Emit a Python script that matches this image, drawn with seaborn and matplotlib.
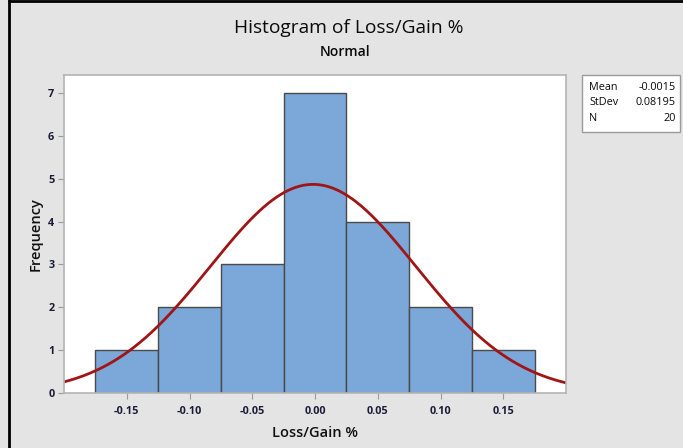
import numpy as np
import pandas as pd
import matplotlib
matplotlib.use("Agg")
import matplotlib.pyplot as plt
import seaborn as sns
from matplotlib.patches import Rectangle
from matplotlib.lines import Line2D

# Histogram bins (centres) and frequencies
bin_centers = [-0.15, -0.10, -0.05, 0.00, 0.05, 0.10, 0.15]
frequencies = [1, 2, 3, 7, 4, 2, 1]
bin_width = 0.05

# Fitted normal parameters
mean_val = -0.0015
stdev_val = 0.08195
n_obs = 20

x_ticks = [-0.15, -0.10, -0.05, 0.00, 0.05, 0.10, 0.15]
x_tick_labels = ["-0.15", "-0.10", "-0.05", "0.00", "0.05", "0.10", "0.15"]
y_ticks = [0, 1, 2, 3, 4, 5, 6, 7]

sns.set_theme(style="white")
plt.rcParams["font.family"] = ["Open Sans", "DejaVu Sans"]

bg = "#e4e4e4"
fig = plt.figure(figsize=(6.83, 4.48), dpi=100, facecolor=bg)
ax = fig.add_axes([64 / 683, 1 - 393 / 448, (566 - 64) / 683, (393 - 75) / 448])
ax.set_facecolor("white")

df = pd.DataFrame({"center": bin_centers, "count": frequencies})
lo = bin_centers[0] - bin_width / 2
hi = bin_centers[-1] + bin_width / 2
sns.histplot(data=df, x="center", weights="count", binwidth=bin_width, binrange=(lo, hi), ax=ax,
             color="#7ba7d9", edgecolor="#4a4a4a", linewidth=1.0, alpha=1.0)

# Normal density scaled to counts
xs = np.linspace(-0.2, 0.2, 400)
pdf = np.exp(-0.5 * ((xs - mean_val) / stdev_val) ** 2) / (stdev_val * np.sqrt(2 * np.pi))
sns.lineplot(x=xs, y=pdf * n_obs * bin_width, ax=ax, color="#a01515", linewidth=2.0)

ax.set_xlim(-0.2, 0.2)
ax.set_ylim(0, 7.42)
ax.set_xticks(x_ticks)
ax.set_xticklabels(x_tick_labels)
ax.set_yticks(y_ticks)
tick_color = "#1c1c3a"
ax.tick_params(axis="both", which="both", direction="out", length=4, width=0.8,
               color="#9a9a9a", labelsize=7.8, labelcolor=tick_color, pad=3,
               bottom=True, left=True)
for lbl in ax.get_xticklabels() + ax.get_yticklabels():
    lbl.set_fontweight("bold")
ax.tick_params(axis="x", pad=5)
for sp in ax.spines.values():
    sp.set_color("#b4b4b4")
    sp.set_linewidth(1.2)

ax.set_xlabel("Loss/Gain %", fontsize=10.5, fontweight="semibold", color="#111111", labelpad=7)
ax.set_ylabel("Frequency", fontsize=10.5, fontweight="semibold", color="#111111", labelpad=4)

fig.text(349 / 683, 1 - 28 / 448, "Histogram of Loss/Gain %", ha="center", va="center",
         fontsize=13.8, fontweight="medium", color="#0a0a0a")
fig.text(345 / 683, 1 - 52 / 448, "Normal", ha="center", va="center",
         fontsize=10, fontweight="semibold", color="#0a0a0a")

# Statistics box
fig.patches.append(Rectangle((582 / 683, 1 - 132 / 448), (680 - 582) / 683, (132 - 75) / 448,
                             transform=fig.transFigure, facecolor="white",
                             edgecolor="#9a9a9a", linewidth=1.0))
stats = [("Mean", "-0.0015"), ("StDev", "0.08195"), ("N", "20")]
for i, (k, v) in enumerate(stats):
    y = 1 - (87 + i * 15.5) / 448
    fig.text(589 / 683, y, k, ha="left", va="center", fontsize=7.8, fontweight="medium", color="#0a0a0a")
    fig.text(676 / 683, y, v, ha="right", va="center", fontsize=7.8, fontweight="medium", color="#0a0a0a")

# Outer frame lines
fig.add_artist(Line2D([9 / 683, 9 / 683], [0, 1], transform=fig.transFigure, color="black", linewidth=2))
fig.add_artist(Line2D([9 / 683, 1], [1 - 1 / 448, 1 - 1 / 448], transform=fig.transFigure, color="black", linewidth=2))

fig.savefig("out.png", dpi=100, facecolor=bg)
